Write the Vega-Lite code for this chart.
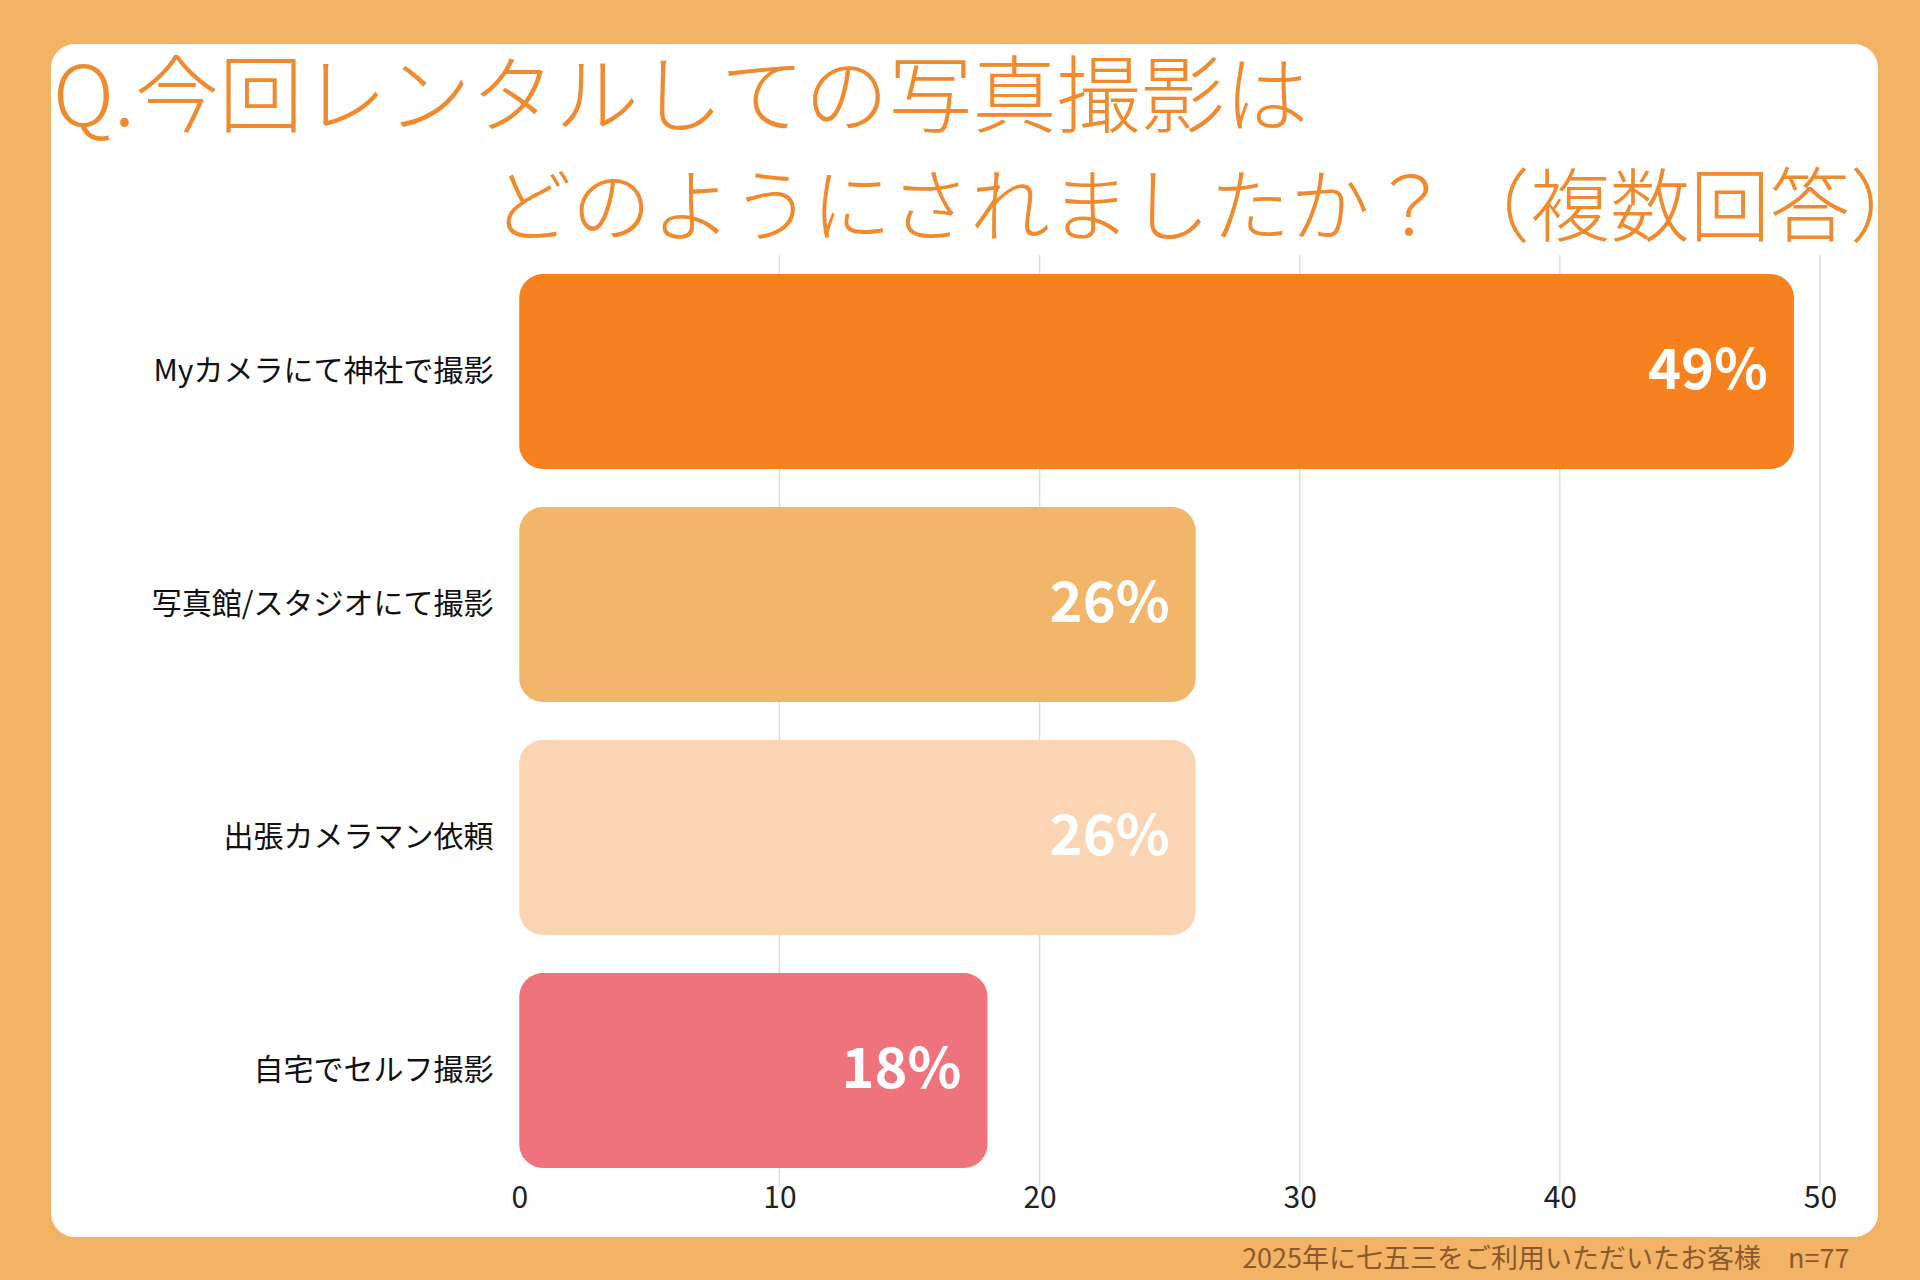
{
  "$schema": "https://vega.github.io/schema/vega-lite/v6.json",
  "width": 1827,
  "height": 1193,
  "autosize": {"type": "none"},
  "padding": {"left": 51, "top": 44, "right": 42, "bottom": 43},
  "background": "#F3B366",
  "config": {
    "view": {"fill": "white", "stroke": null, "cornerRadius": 24},
    "font": "Noto Sans CJK JP"
  },
  "title": {
    "text": "Q.今回レンタルしての写真撮影は",
    "anchor": "start",
    "frame": "group",
    "offset": -100,
    "dx": 2,
    "font": "Noto Sans CJK JP",
    "fontSize": 84,
    "fontWeight": 300,
    "color": "#EF8A2E"
  },
  "datasets": {
    "bars": [
      {"method": "Myカメラにて神社で撮影", "pct": 49},
      {"method": "写真館/スタジオにて撮影", "pct": 26},
      {"method": "出張カメラマン依頼", "pct": 26},
      {"method": "自宅でセルフ撮影", "pct": 18}
    ],
    "grid": [
      {"g": 10, "method": "Myカメラにて神社で撮影"}, {"g": 10, "method": "写真館/スタジオにて撮影"}, {"g": 10, "method": "出張カメラマン依頼"}, {"g": 10, "method": "自宅でセルフ撮影"},
      {"g": 20, "method": "Myカメラにて神社で撮影"}, {"g": 20, "method": "写真館/スタジオにて撮影"}, {"g": 20, "method": "出張カメラマン依頼"}, {"g": 20, "method": "自宅でセルフ撮影"},
      {"g": 30, "method": "Myカメラにて神社で撮影"}, {"g": 30, "method": "写真館/スタジオにて撮影"}, {"g": 30, "method": "出張カメラマン依頼"}, {"g": 30, "method": "自宅でセルフ撮影"},
      {"g": 40, "method": "Myカメラにて神社で撮影"}, {"g": 40, "method": "写真館/スタジオにて撮影"}, {"g": 40, "method": "出張カメラマン依頼"}, {"g": 40, "method": "自宅でセルフ撮影"},
      {"g": 50, "method": "Myカメラにて神社で撮影"}, {"g": 50, "method": "写真館/スタジオにて撮影"}, {"g": 50, "method": "出張カメラマン依頼"}, {"g": 50, "method": "自宅でセルフ撮影"}
    ]
  },
  "resolve": {"scale": {"color": "independent"}},
  "layer": [
    {
      "data": {"name": "grid"},
      "mark": {"type": "rect", "fill": null, "stroke": "#DDDDDD", "strokeWidth": 1.5},
      "encoding": {
        "x": {"field": "g", "type": "quantitative", "scale": {"domain": [-18, 52.23], "nice": false, "zero": false},
          "axis": {"values": [0, 10, 20, 30, 40, 50], "grid": false, "domain": false, "ticks": false, "labelPadding": -54,
            "labelFontSize": 30, "labelColor": "#222222", "labelFont": "Noto Sans CJK JP",
            "title": "2025年に七五三をご利用いただいたお客様　n=77", "titleX": 1798, "titleY": 22, "titleAlign": "right",
            "titleAnchor": null, "titleBaseline": "middle", "titleFontSize": 27, "titleFontWeight": "normal", "titleColor": "#8B5A2B"}},
        "x2": {"field": "g"},
        "y": {"field": "method", "type": "nominal", "sort": null,
          "scale": {"range": [211, 1143], "paddingInner": 0, "paddingOuter": 0},
          "axis": {"domain": false, "ticks": false, "labelPadding": -442, "labelFontSize": 30, "labelLimit": 0,
            "labelColor": "#111111", "labelFont": "Noto Sans CJK JP",
            "title": "どのようにされましたか？（複数回答）", "titleAngle": 0, "titleX": 440, "titleY": 190,
            "titleAlign": "left", "titleBaseline": "alphabetic", "titleFontSize": 80, "titleFontWeight": 300,
            "titleColor": "#EF8A2E", "titleFont": "Noto Sans CJK JP"}}
      }
    },
    {
      "data": {"name": "bars"},
      "mark": {"type": "bar", "height": {"band": 0.837}, "cornerRadiusEnd": 24},
      "encoding": {
        "x": {"field": "pct", "type": "quantitative", "scale": {"domain": [-18, 52.23], "nice": false, "zero": false}},
        "x2": {"datum": 0},
        "y": {"field": "method", "type": "nominal", "sort": null},
        "color": {"field": "method", "type": "nominal", "sort": null, "legend": null,
          "scale": {"domain": ["Myカメラにて神社で撮影", "写真館/スタジオにて撮影", "出張カメラマン依頼", "自宅でセルフ撮影"],
            "range": ["#F7811E", "#F2B66B", "#FBD4B4", "#EF737D"]}}
      }
    },
    {
      "data": {"name": "bars"},
      "transform": [{"calculate": "datum.pct + '%'", "as": "lab"}],
      "mark": {"type": "text", "align": "right", "baseline": "middle", "dx": -26, "fontSize": 56, "fontWeight": "bold", "color": "white", "font": "Noto Sans CJK JP"},
      "encoding": {
        "x": {"field": "pct", "type": "quantitative"},
        "y": {"field": "method", "type": "nominal", "sort": null},
        "text": {"field": "lab"}
      }
    }
  ]
}
